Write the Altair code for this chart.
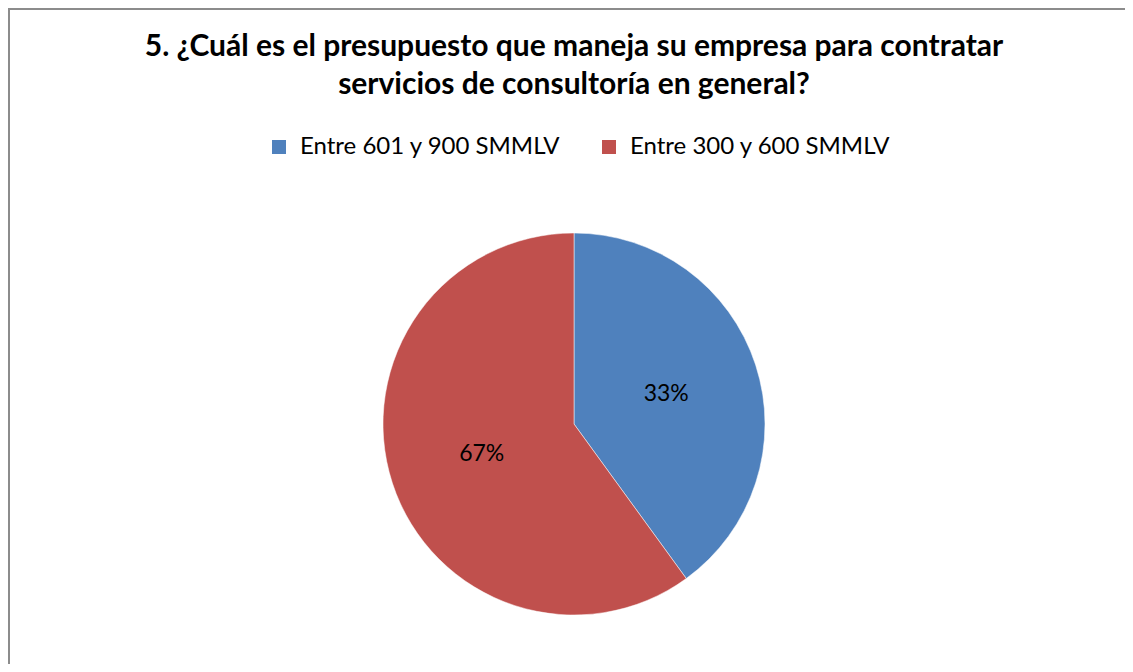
import altair as alt
import pandas as pd

categories = ["Entre 601 y 900 SMMLV", "Entre 300 y 600 SMMLV"]
values = [40, 60]
labels = ["33%", "67%"]
colors = ["#4F81BD", "#C0504D"]
title_lines = [
    "5. ¿Cuál es el presupuesto que maneja su empresa para contratar",
    "servicios de consultoría en general?",
]

df = pd.DataFrame({"cat": categories, "val": values, "lab": labels, "ord": [0, 1]})
tdf = pd.DataFrame({"t": title_lines, "line": [0, 1]})

W, H = 1117, 506
TOP = 150
CX, CY = 566, 266

base = alt.Chart(df).encode(
    theta=alt.Theta("val:Q", stack=True),
    order=alt.Order("ord:Q"),
)

pie = base.mark_arc(outerRadius=191, stroke="white", strokeWidth=0.5).encode(
    x=alt.value(CX),
    y=alt.value(CY),
    color=alt.Color(
        "cat:N",
        scale=alt.Scale(domain=categories, range=colors),
        sort=categories,
        legend=alt.Legend(
            title=None,
            orient="none",
            direction="horizontal",
            legendX=259,
            legendY=-23,
            symbolType="square",
            symbolSize=196,
            symbolStrokeWidth=0,
            labelFont="Lato",
            labelFontSize=24,
            labelColor="black",
            labelOffset=9,
            columnPadding=36,
            padding=0,
            labelLimit=0,
        ),
    ),
)

text = base.mark_text(radius=97, font="Lato", fontSize=23, color="black").encode(
    x=alt.value(CX),
    y=alt.value(CY),
    text="lab:N",
)

title = alt.Chart(tdf).mark_text(
    font="Lato", fontSize=30, fontWeight="bold", color="black",
    align="center", baseline="alphabetic",
).encode(
    x=alt.value(CX),
    y=alt.Y("line:Q", axis=None,
            scale=alt.Scale(domain=[0, 1], range=[-TOP + 48, -TOP + 86])),
    text="t:N",
)

border_df = pd.DataFrame({"a": [0]})
border = alt.Chart(border_df).mark_rect(fill=None, stroke="#8c8c8c", strokeWidth=2).encode(
    x=alt.value(1),
    x2=alt.value(W + 40),
    y=alt.value(-TOP + 1),
    y2=alt.value(H + 40),
)

chart = alt.layer(border, pie, text, title).properties(
    width=W,
    height=H,
    autosize=alt.AutoSizeParams(type="none"),
    padding={"left": 0, "top": TOP, "right": 0, "bottom": 0},
).configure(background="white").configure_view(stroke=None)

chart.save("out.html", embed_options={"renderer": "svg", "actions": False})
